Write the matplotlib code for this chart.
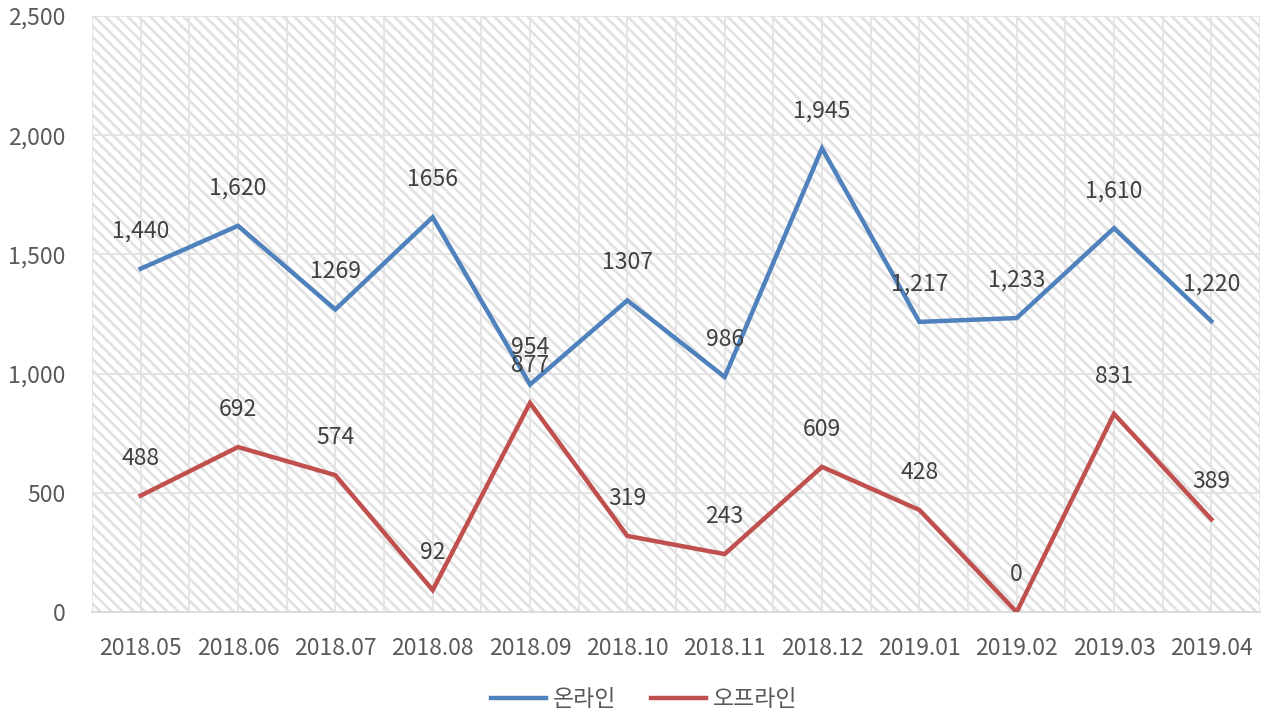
import numpy as np
import matplotlib.pyplot as plt
from matplotlib.patches import Rectangle
from matplotlib.ticker import FuncFormatter


# data
months = ['2018.05', '2018.06', '2018.07', '2018.08', '2018.09', '2018.10',
          '2018.11', '2018.12', '2019.01', '2019.02', '2019.03', '2019.04']
online = [1440, 1620, 1269, 1656, 954, 1307, 986, 1945, 1217, 1233, 1610, 1220]
offline = [488, 692, 574, 92, 877, 319, 243, 609, 428, 0, 831, 389]
online_labels = ['1,440', '1,620', '1269', '1656', '954', '1307',
                 '986', '1,945', '1,217', '1,233', '1,610', '1,220']
offline_labels = ['488', '692', '574', '92', '877', '319',
                  '243', '609', '428', '0', '831', '389']


# plot setup
plt.rcParams['font.family'] = ['Noto Sans CJK KR', 'DejaVu Sans']
plt.rcParams['hatch.linewidth'] = 2.0
txt = '#595959'
grid = '#e3e3e3'
fs = 16.5

fig = plt.figure(figsize=(12.63, 7.16), dpi=100)
ax = fig.add_axes([92/1263, 1-612/716, 1168/1263, 596/716])

# hatched plot area
bg = Rectangle((0, 0), 1, 1, transform=ax.transAxes, facecolor='white',
               edgecolor='#e2e2e2', hatch='\\\\\\', linewidth=0, zorder=0)
ax.add_patch(bg)

x = np.arange(len(months))
for gx in np.arange(-0.5, len(months), 0.5):
    ax.axvline(gx, color=grid, lw=1.3, zorder=1)
for gy in range(500, 2501, 500):
    ax.axhline(gy, color=grid, lw=1.3, zorder=1)

ax.plot(x, online, color='#4F81BD', lw=3.2, label='온라인', zorder=3,
        solid_joinstyle='miter')
ax.plot(x, offline, color='#C0504D', lw=3.2, label='오프라인', zorder=3,
        solid_joinstyle='miter')

for xi, v, s in zip(x, online, online_labels):
    ax.annotate(s, (xi, v), xytext=(0, 27), textcoords='offset points',
                ha='center', va='center', fontsize=fs, color='#404040', zorder=4)
for xi, v, s in zip(x, offline, offline_labels):
    ax.annotate(s, (xi, v), xytext=(0, 27), textcoords='offset points',
                ha='center', va='center', fontsize=fs, color='#404040', zorder=4)

ax.set_xlim(-0.5, len(months) - 0.5)
ax.set_ylim(0, 2500)
ax.set_xticks(x)
ax.set_xticklabels(months)
ax.set_yticks(range(0, 2501, 500))
ax.yaxis.set_major_formatter(FuncFormatter(lambda v, p: '{:,.0f}'.format(v)))
ax.tick_params(length=0, labelsize=fs, colors=txt)
ax.tick_params(axis='x', pad=18)
ax.tick_params(axis='y', pad=19)

for side in ['left', 'right', 'top']:
    ax.spines[side].set_visible(False)
ax.spines['bottom'].set_color('#d9d9d9')
ax.spines['bottom'].set_linewidth(1.3)
ax.spines['bottom'].set_zorder(2)

fig.legend(loc='center', bbox_to_anchor=(0.51, 1-700/716), ncol=2, frameon=False,
           fontsize=fs, handlelength=2.4, columnspacing=1.5, handletextpad=0.3,
           labelcolor=txt)

plt.savefig('out.png', dpi=100)
